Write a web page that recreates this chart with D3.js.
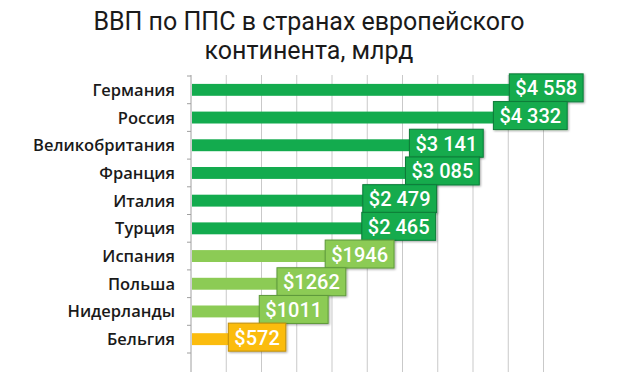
<!DOCTYPE html>
<html><head><meta charset="utf-8">
<script src="https://cdn.jsdelivr.net/npm/d3@7"></script>
<style>body{margin:0;background:#fff;}svg{display:block;}</style>
</head><body>
<svg id="c" width="620" height="374"></svg>
<script>
const categories = ["Германия","Россия","Великобритания","Франция","Италия","Турция","Испания","Польша","Нидерланды","Бельгия"];
const values = [4558,4332,3141,3085,2479,2465,1946,1262,1011,572];
const labels = ["$4 558","$4 332","$3 141","$3 085","$2 479","$2 465","$1946","$1262","$1011","$572"];
const groups = ["dark","dark","dark","dark","dark","dark","light","light","light","yellow"];
const xTicks = [0,500,1000,1500,2000,2500,3000,3500,4000,4500,5000];
const titleLines = ["ВВП по ППС в странах европейского","континента, млрд"];

const fill = {dark:"#13ab4e", light:"#8ccb55", yellow:"#fbbc0e"};
const edge = {dark:"#0d7d39", light:"#5e9a3a", yellow:"#c08f0a"};

const svg = d3.select("#c");
const x = d3.scaleLinear().domain([0,5000]).range([191,543.5]);
const y = d3.scaleBand().domain(categories).range([76,353]).paddingInner(0.57).paddingOuter(0.285);

// title
svg.selectAll("text.title").data(titleLines).join("text")
  .attr("class","title")
  .attr("x",309).attr("y",(d,i)=>30+i*29)
  .attr("text-anchor","middle")
  .attr("font-family","Roboto, sans-serif").attr("font-size",25)
  .attr("fill","#1a1a1a")
  .text(d=>d);

// gridlines
svg.append("g").selectAll("line").data(xTicks.slice(1)).join("line")
  .attr("x1",d=>x(d)).attr("x2",d=>x(d)).attr("y1",75).attr("y2",372)
  .attr("stroke","#c9c9c9").attr("stroke-width",1);

// y axis
const ag = svg.append("g").attr("transform","translate(191,0)");
ag.append("line").attr("x1",0).attr("x2",0).attr("y1",75).attr("y2",372).attr("stroke","#a0a0a0");
const bounds = categories.map(c=>y(c)-y.step()*y.paddingInner()/2).concat([y(categories[9])+y.bandwidth()+y.step()*y.paddingInner()/2]);
ag.selectAll("line.t").data(bounds).join("line").attr("class","t")
  .attr("x1",-4).attr("x2",0).attr("y1",d=>d).attr("y2",d=>d).attr("stroke","#a0a0a0");

// category labels
svg.append("g").selectAll("text").data(categories).join("text")
  .attr("x",175).attr("y",d=>y(d)+y.bandwidth()/2+6)
  .attr("text-anchor","end")
  .attr("font-family","'Open Sans', sans-serif").attr("font-weight",600).attr("font-size",16.5)
  .attr("fill","#1a1a1a")
  .text(d=>d);

// bars
svg.append("g").selectAll("rect").data(values).join("rect")
  .attr("x",x(0)+1).attr("y",(d,i)=>y(categories[i]))
  .attr("width",d=>x(d)-x(0)-1).attr("height",y.bandwidth())
  .attr("fill",(d,i)=>fill[groups[i]]);

// value labels
const defs = svg.append("defs");
const f = defs.append("filter").attr("id","sh").attr("x","-10%").attr("y","-10%").attr("width","130%").attr("height","140%");
f.append("feDropShadow").attr("dx",1).attr("dy",1).attr("stdDeviation",0.8).attr("flood-color","#000").attr("flood-opacity",0.35);

const lg = svg.append("g").selectAll("g").data(values).join("g")
  .attr("transform",(d,i)=>`translate(${x(d)-3},${y(categories[i])+y.bandwidth()/2-2})`);
const rects = lg.append("rect").attr("y",-14).attr("height",28)
  .attr("fill",(d,i)=>fill[groups[i]]).attr("stroke",(d,i)=>edge[groups[i]]).attr("stroke-width",1)
  .attr("filter","url(#sh)");
const txt = lg.append("text").attr("x",6).attr("y",7.5)
  .attr("font-family","Roboto, sans-serif").attr("font-weight",500).attr("font-size",20)
  .attr("fill","#fff").text((d,i)=>labels[i]);
txt.each(function(d,i){
  const w = this.getComputedTextLength();
  d3.select(rects.nodes()[i]).attr("width",w+12);
});
</script>
</body></html>
